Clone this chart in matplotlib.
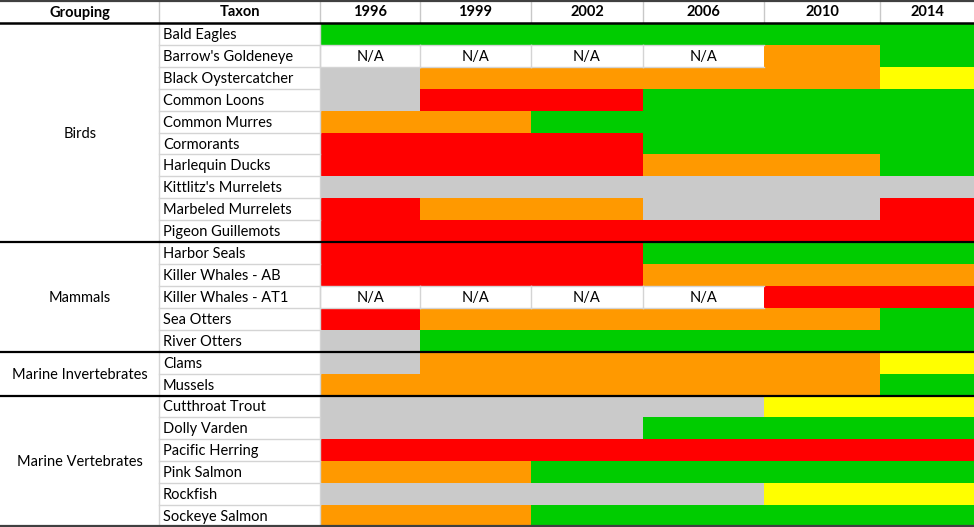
import matplotlib.pyplot as plt
from matplotlib.patches import Rectangle

# Table content
years = ['1996', '1999', '2002', '2006', '2010', '2014']
groups = ['Birds', 'Mammals', 'Marine Invertebrates', 'Marine Vertebrates']
group_sizes = [10, 5, 2, 6]
taxa = ['Bald Eagles', "Barrow's Goldeneye", 'Black Oystercatcher', 'Common Loons',
        'Common Murres', 'Cormorants', 'Harlequin Ducks', "Kittlitz's Murrelets",
        'Marbeled Murrelets', 'Pigeon Guillemots',
        'Harbor Seals', 'Killer Whales - AB', 'Killer Whales - AT1', 'Sea Otters', 'River Otters',
        'Clams', 'Mussels',
        'Cutthroat Trout', 'Dolly Varden', 'Pacific Herring', 'Pink Salmon', 'Rockfish',
        'Sockeye Salmon']
# status codes: G recovered, O recovering, R not recovering, U unknown, Y very likely recovered, NA
status = [
    ['G', 'G', 'G', 'G', 'G', 'G'],
    ['NA', 'NA', 'NA', 'NA', 'O', 'G'],
    ['U', 'O', 'O', 'O', 'O', 'Y'],
    ['U', 'R', 'R', 'G', 'G', 'G'],
    ['O', 'O', 'G', 'G', 'G', 'G'],
    ['R', 'R', 'R', 'G', 'G', 'G'],
    ['R', 'R', 'R', 'O', 'O', 'G'],
    ['U', 'U', 'U', 'U', 'U', 'U'],
    ['R', 'O', 'O', 'U', 'U', 'R'],
    ['R', 'R', 'R', 'R', 'R', 'R'],
    ['R', 'R', 'R', 'G', 'G', 'G'],
    ['R', 'R', 'R', 'O', 'O', 'O'],
    ['NA', 'NA', 'NA', 'NA', 'R', 'R'],
    ['R', 'O', 'O', 'O', 'O', 'G'],
    ['U', 'G', 'G', 'G', 'G', 'G'],
    ['U', 'O', 'O', 'O', 'O', 'Y'],
    ['O', 'O', 'O', 'O', 'O', 'G'],
    ['U', 'U', 'U', 'U', 'Y', 'Y'],
    ['U', 'U', 'U', 'G', 'G', 'G'],
    ['R', 'R', 'R', 'R', 'R', 'R'],
    ['O', 'O', 'G', 'G', 'G', 'G'],
    ['U', 'U', 'U', 'U', 'Y', 'Y'],
    ['O', 'O', 'G', 'G', 'G', 'G'],
]

colors = {'G': '#00cc00', 'O': '#ff9900', 'R': '#ff0000', 'U': '#cacaca',
          'Y': '#ffff00', 'NA': 'white'}

W, H = 974, 527
col_edges = [0, 159, 320, 420, 531, 643, 764, 880, 974]
header_h = 23
row_h = (H - header_h) / len(taxa)
font = ['Lato', 'DejaVu Sans']
fs = 10.5

fig = plt.figure(figsize=(W / 100, H / 100), dpi=100)
ax = fig.add_axes([0, 0, 1, 1])
ax.set_xlim(0, W)
ax.set_ylim(H, 0)
ax.axis('off')

# header
heads = ['Grouping', 'Taxon'] + years
for j, h in enumerate(heads):
    xc = (col_edges[j] + col_edges[j + 1]) / 2
    ax.text(xc, header_h / 2 + 1, h, ha='center', va='center', fontsize=fs,
            fontweight='bold', family=font)
    if 0 < j:
        ax.plot([col_edges[j]] * 2, [0, header_h], color='#c8c8c8', lw=1)

# cells
for i, (name, row) in enumerate(zip(taxa, status)):
    y0 = header_h + i * row_h
    for j, s in enumerate(row):
        x0 = col_edges[j + 2]
        x1 = col_edges[j + 3]
        ax.add_patch(Rectangle((x0, y0), x1 - x0, row_h, facecolor=colors[s],
                               edgecolor='none'))
        if s == 'NA':
            ax.text((x0 + x1) / 2, y0 + row_h / 2 + 1, 'N/A', ha='center', va='center',
                    fontsize=fs, family=font)
    ax.text(163, y0 + row_h / 2 + 1, name, ha='left', va='center', fontsize=fs,
            family=font)
    ax.plot([159, 320], [y0 + row_h] * 2, color='#d4d4d4', lw=1)

# N/A cell grid lines
for i, row in enumerate(status):
    y0 = header_h + i * row_h
    for j, s in enumerate(row):
        if s == 'NA':
            x0 = col_edges[j + 2]
            x1 = col_edges[j + 3]
            ax.plot([x0, x0], [y0, y0 + row_h], color='#d4d4d4', lw=1)
            ax.plot([x0, x1], [y0 + row_h, y0 + row_h], color='#d4d4d4', lw=1)
            ax.plot([x0, x1], [y0, y0], color='#d4d4d4', lw=1)

ax.plot([159, 159], [header_h, H], color='#d4d4d4', lw=1)
ax.plot([320, 320], [header_h, H], color='#d4d4d4', lw=1)

# groups
start = 0
for g, n in zip(groups, group_sizes):
    ya = header_h + start * row_h
    yb = header_h + (start + n) * row_h
    ax.text(80, (ya + yb) / 2 + 1, g, ha='center', va='center', fontsize=fs, family=font)
    start += n
    if start < len(taxa):
        ax.plot([0, W], [yb, yb], color='black', lw=1.6)

ax.plot([0, W], [header_h, header_h], color='black', lw=1.8)
ax.plot([0, W], [0.8, 0.8], color='#404040', lw=1.6)
ax.plot([0, W], [H - 0.8, H - 0.8], color='#404040', lw=1.6)

fig.savefig('out.png', dpi=100)
